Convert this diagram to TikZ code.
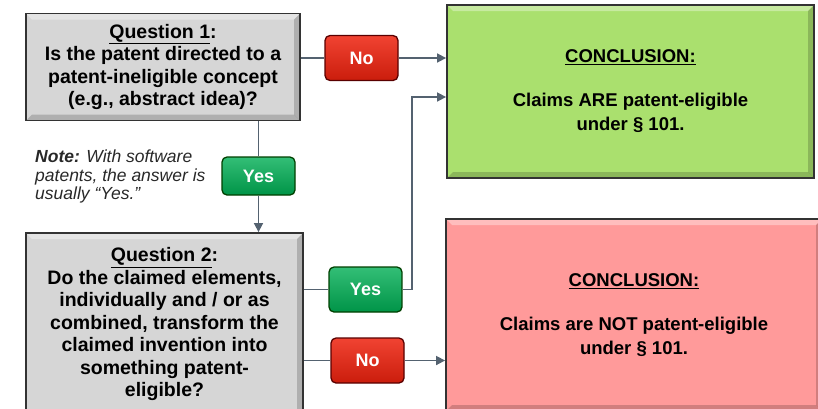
\documentclass[tikz,border=0pt]{standalone}
\usepackage{fontspec}
\setmainfont{Liberation Sans}
\usetikzlibrary{arrows.meta}
\usetikzlibrary{positioning}

\definecolor{qgray}{RGB}{214,214,214}
\definecolor{okgreen}{RGB}{170,224,110}
\definecolor{badred}{RGB}{255,154,154}
\definecolor{btnred}{RGB}{238,34,14}
\definecolor{btngreen}{RGB}{0,174,84}
\definecolor{wirecol}{RGB}{84,98,112}
\definecolor{notecol}{RGB}{40,40,40}

\tikzset{
  bevel/.style={path picture={
    \fill [white, opacity=.35] (path picture bounding box.north west)
      -- (path picture bounding box.north east)
      -- ([shift={(-6pt,-6pt)}]path picture bounding box.north east)
      -- ([shift={(6pt,-6pt)}]path picture bounding box.north west) -- cycle;
    \fill [black, opacity=.18] (path picture bounding box.north east)
      -- (path picture bounding box.south east)
      -- ([shift={(-6pt,6pt)}]path picture bounding box.south east)
      -- ([shift={(-6pt,-6pt)}]path picture bounding box.north east) -- cycle;
    \fill [black, opacity=.18] (path picture bounding box.south west)
      -- (path picture bounding box.south east)
      -- ([shift={(-6pt,6pt)}]path picture bounding box.south east)
      -- ([shift={(6pt,6pt)}]path picture bounding box.south west) -- cycle;
  }},
  box/.style={draw=black!80, line width=1.8pt, align=center, inner sep=0pt, bevel},
  question/.style={box, fill=qgray, font=\bfseries\fontsize{19.5}{22.5}\selectfont},
  goodend/.style={box, fill=okgreen, font=\bfseries\fontsize{18.5}{24}\selectfont},
  badend/.style={box, fill=badred, font=\bfseries\fontsize{18.5}{24}\selectfont},
  button/.style={draw, rounded corners=5pt, line width=1.3pt, text=white,
    inner sep=0pt, minimum width=73pt, minimum height=45pt,
    font=\bfseries\fontsize{18}{20}\selectfont},
  yesbtn/.style={button, draw=green!25!black, top color=btngreen!80!white,
    bottom color=btngreen!85!black},
  nobtn/.style={button, draw=red!35!black, top color=btnred!85!white,
    bottom color=btnred!85!black},
  link/.style={draw=wirecol, line width=1.6pt},
  arrow/.style={link, -{Triangle[length=9pt,width=9pt]}},
}

\begin{document}
\begin{tikzpicture}[x=1pt,y=-1pt]
  \useasboundingbox (0,0) rectangle (818,408);

  % questions
  \node (q1) [question, minimum width=274pt, minimum height=107pt] at (163,67)
    {\underline{Question 1}:\\ Is the patent directed to a\\
     patent-ineligible concept\\ (e.g., abstract idea)?};
  \node (q2) [question, minimum width=277pt, minimum height=182pt] at (164.5,324)
    {\underline{Question 2}:\\ Do the claimed elements,\\
     individually and / or as\\ combined, transform the\\
     claimed invention into\\ something patent-\\ eligible?};

  % conclusions
  \node (ok) [goodend, minimum width=367pt, minimum height=173pt] at (630.5,91.5)
    {\underline{CONCLUSION:}\\[20pt] Claims ARE patent-eligible\\ under \S\ 101.};
  \node (bad) [badend, minimum width=376pt, minimum height=192pt] at (634,315)
    {\underline{CONCLUSION:}\\[20pt] Claims are NOT patent-eligible\\ under \S\ 101.};

  % answers
  \node (no1) [nobtn] at (361.5,58) {No};
  \node (yes1) [yesbtn, minimum height=38pt] at (258.5,176) {Yes};
  \node (yes2) [yesbtn] at (365.5,289.5) {Yes};
  \node (no2) [nobtn] at (367.5,360.5) {No};

  \node (note) [anchor=north west, align=left, inner sep=0pt, text=notecol,
    font=\itshape\fontsize{17.5}{18.5}\selectfont] at (35,150)
    {\textbf{Note:} With software\\ patents, the answer is\\ usually “Yes.”};

  \coordinate (turn) at (412,97);

  \draw [link] (q1.east |- no1) -- (no1);
  \draw [arrow] (no1) -- (ok.west |- no1);
  \draw [link] (q1.south -| yes1) -- (yes1);
  \draw [arrow] (yes1) -- (q2.north -| yes1);
  \draw [link] (q2.east |- yes2) -- (yes2);
  \draw [arrow] (yes2.east) -| (turn) -- (ok.west |- turn);
  \draw [link] (q2.east |- no2) -- (no2);
  \draw [arrow] (no2) -- (bad.west |- no2);
\end{tikzpicture}
\end{document}
